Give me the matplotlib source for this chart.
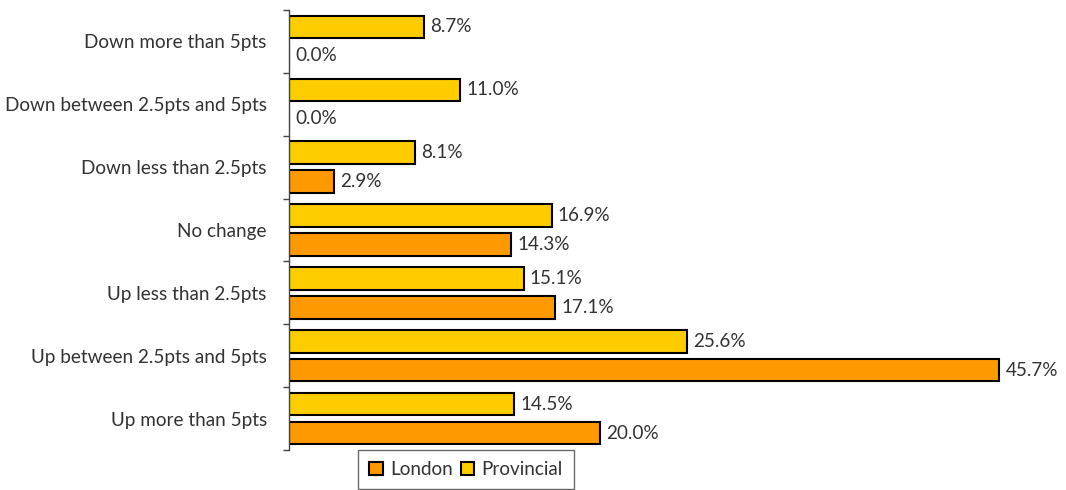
import matplotlib
matplotlib.use("Agg")
import matplotlib.pyplot as plt
from matplotlib.patches import Patch
import numpy as np

categories = ["Down more than 5pts", "Down between 2.5pts and 5pts", "Down less than 2.5pts",
              "No change", "Up less than 2.5pts", "Up between 2.5pts and 5pts", "Up more than 5pts"]
provincial = [8.7, 11.0, 8.1, 16.9, 15.1, 25.6, 14.5]
london = [0.0, 0.0, 2.9, 14.3, 17.1, 45.7, 20.0]

plt.rcParams['font.family'] = ['Lato', 'DejaVu Sans']
text_color = '#333333'
yellow = '#FFCC00'
orange = '#FF9900'
fs = 13.6

fig = plt.figure(figsize=(10.66, 4.9), dpi=100)
ax = fig.add_axes([289/1066, 1-450/490, 1-289/1066, 440/490])

y = np.arange(len(categories))
off = 0.23
h = 0.36
ax.barh(y - off, provincial, height=h, color=yellow, edgecolor='black', linewidth=1.5)
ax.barh(y + off, london, height=h, color=orange, edgecolor='black', linewidth=1.5)

for yi, v in zip(y, provincial):
    ax.text(v + 0.4, yi - off, f"{v:.1f}%", va='center', ha='left', fontsize=fs, color=text_color)
for yi, v in zip(y, london):
    ax.text(v + 0.4, yi + off, f"{v:.1f}%", va='center', ha='left', fontsize=fs, color=text_color)

ax.set_xlim(0, 50)
ax.set_ylim(len(categories) - 0.5, -0.5)
ax.set_yticks(np.arange(len(categories) + 1) - 0.5)
ax.set_yticklabels([])
ax.set_yticks(y, minor=True)
ax.set_yticklabels(categories, minor=True, fontsize=fs, color=text_color)
ax.tick_params(axis='y', which='minor', length=0, pad=16)
ax.tick_params(axis='y', which='major', length=4, color='#444444', width=1)
ax.set_xticks([])
for s in ['top', 'right', 'bottom']:
    ax.spines[s].set_visible(False)
ax.spines['left'].set_color('#444444')
ax.spines['left'].set_linewidth(1)

handles = [Patch(facecolor=orange, edgecolor='black', linewidth=1.5, label='London'),
           Patch(facecolor=yellow, edgecolor='black', linewidth=1.5, label='Provincial')]
leg = fig.legend(handles=handles, loc='upper center', bbox_to_anchor=(466/1066, 1-444/490),
                 ncol=2, frameon=True, fancybox=False, fontsize=fs, handlelength=0.7,
                 handleheight=0.7, handletextpad=0.4, columnspacing=0.4, borderpad=0.6,
                 borderaxespad=0.3, labelcolor=text_color)
leg.get_frame().set_edgecolor('#444444')
leg.get_frame().set_linewidth(1)

fig.savefig("out.png", dpi=100)
